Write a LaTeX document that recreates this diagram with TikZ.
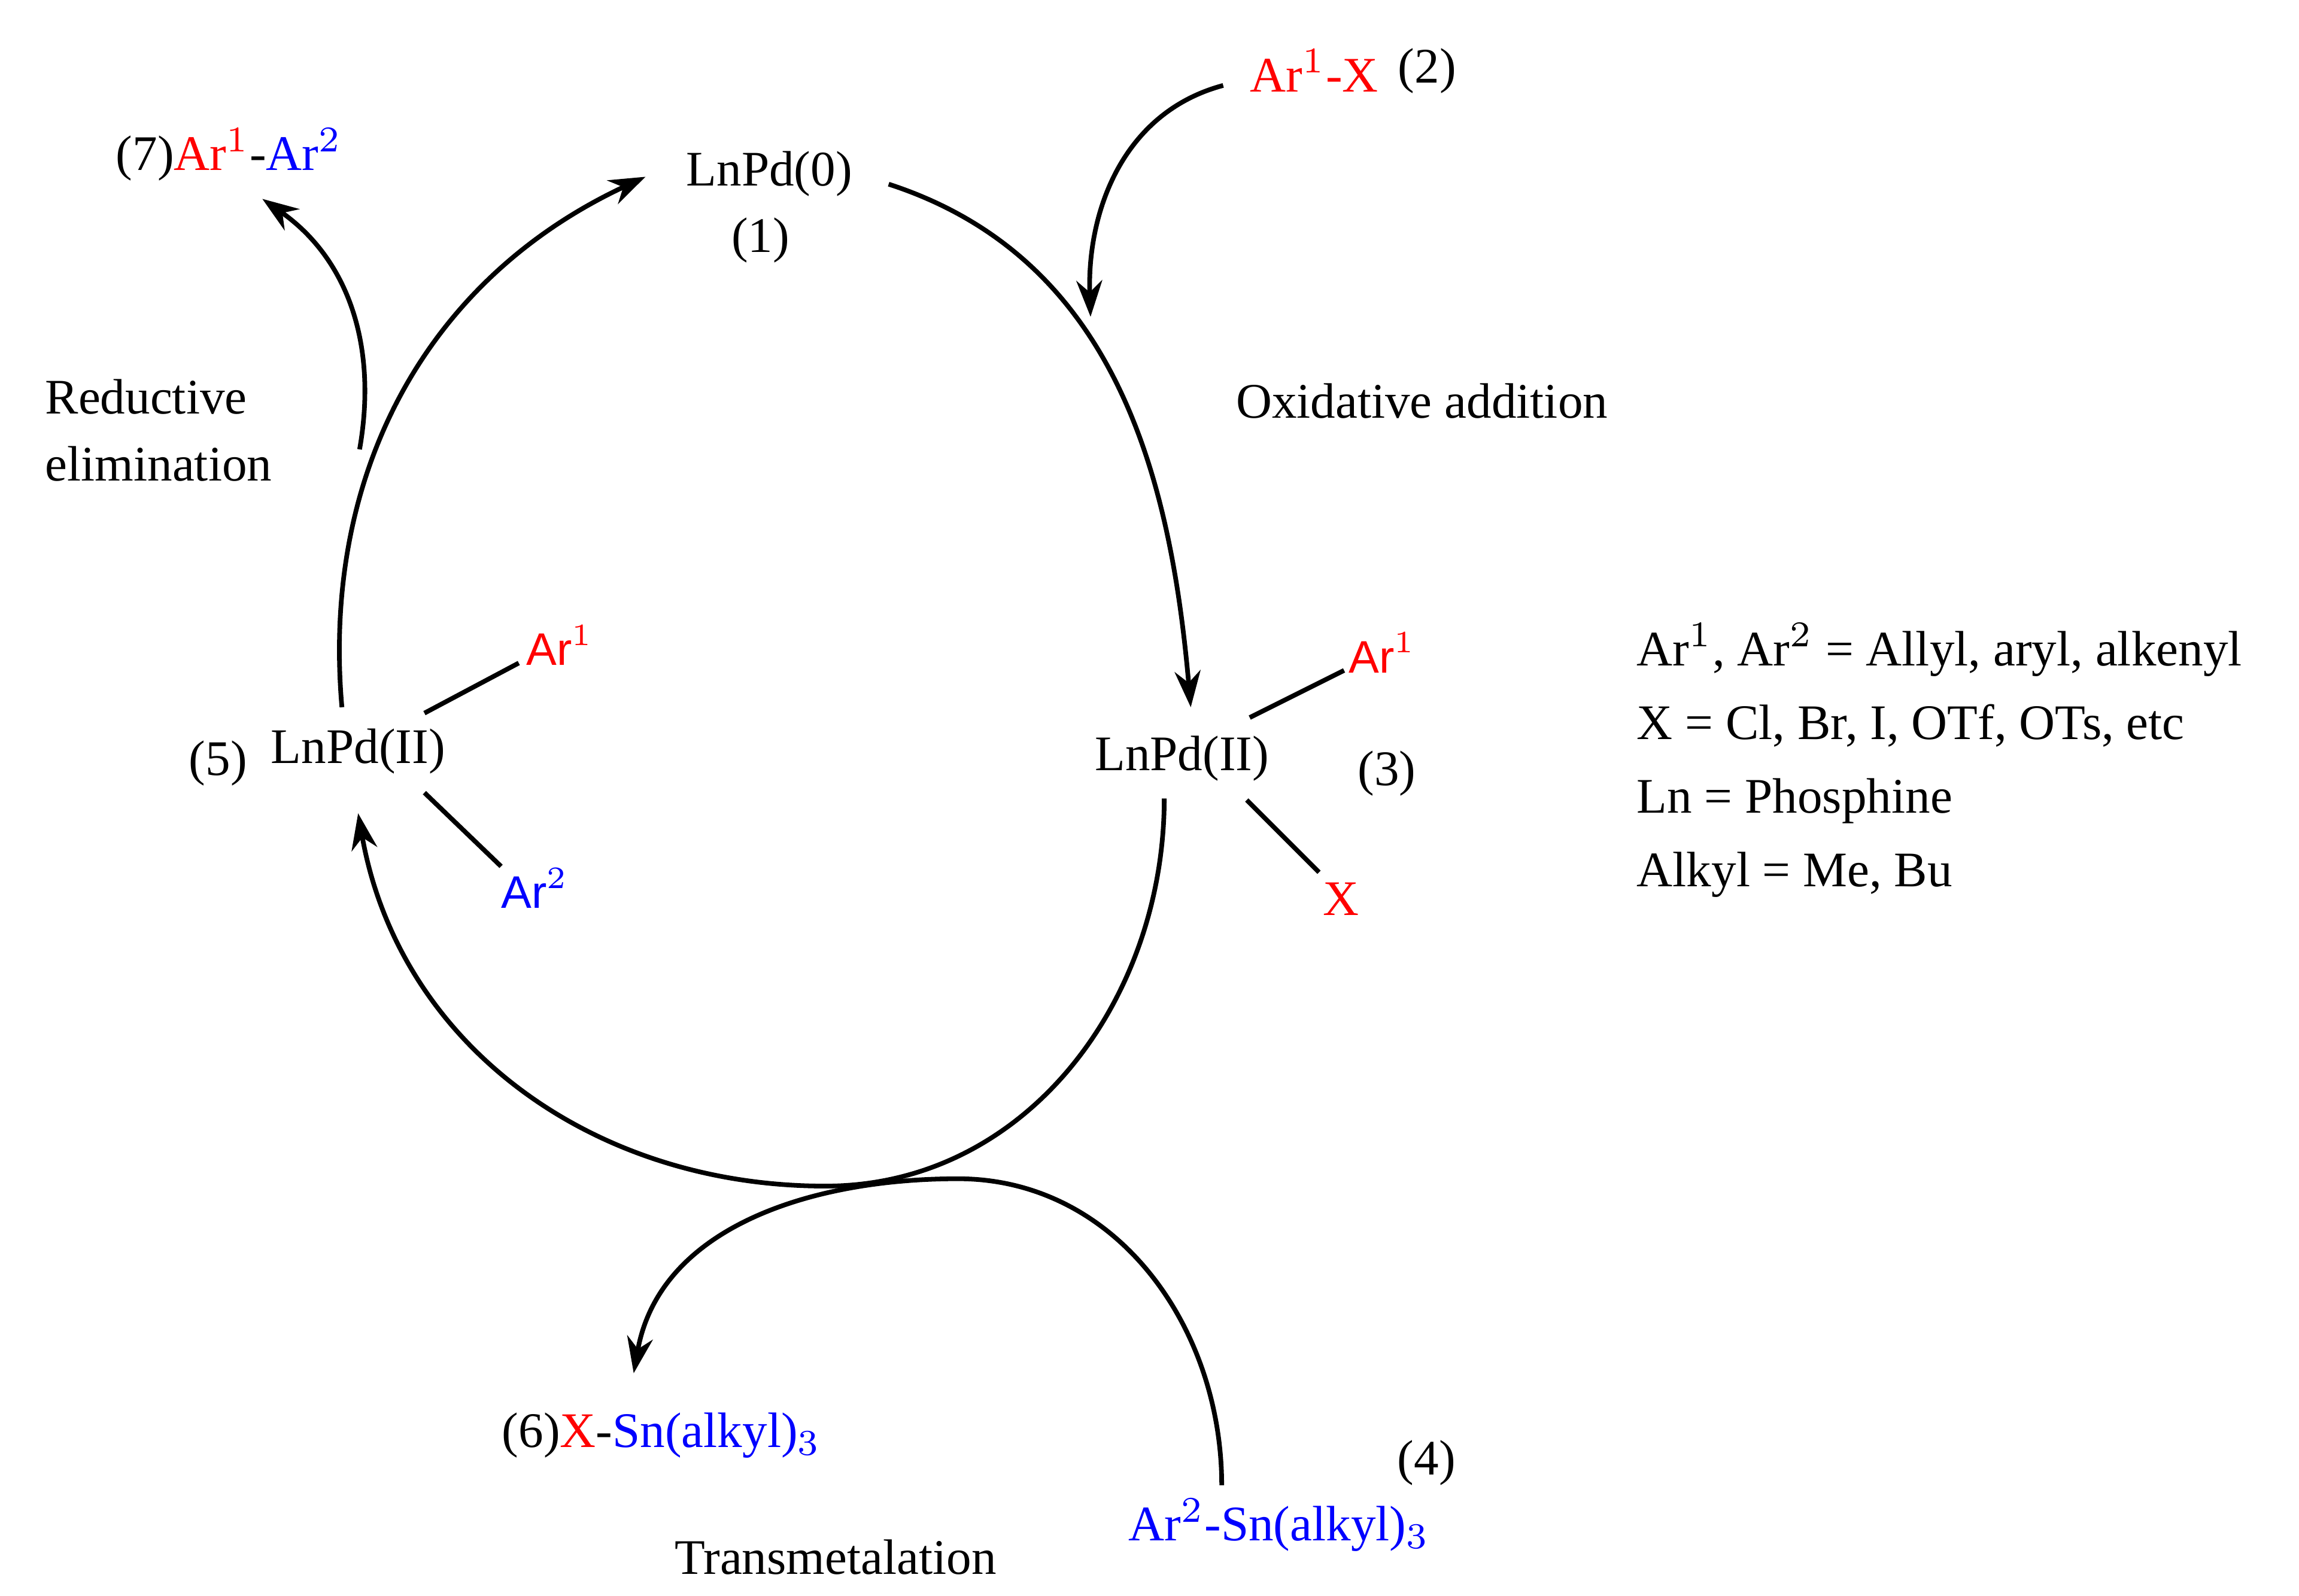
\documentclass[tikz,border=0pt]{standalone}
\usepackage{fontspec}
\setmainfont{Liberation Serif}
\newfontfamily\sansf{Liberation Sans}
\usetikzlibrary{arrows.meta}
\definecolor{rd}{RGB}{255,0,0}
\definecolor{bl}{RGB}{0,0,255}
\begin{document}
\begin{tikzpicture}[x=0.01cm,y=0.01cm,
  every node/.style={font=\fontsize{9.6}{11}\selectfont, inner sep=0pt},
  arc/.style={line width=0.9pt,-{Stealth[length=7pt,width=5pt]}},
  bond/.style={line width=0.9pt},
  sf/.style={font=\sansf\fontsize{8.8}{10}\selectfont}]
\useasboundingbox (0,0) rectangle (1560,-1083);
\node (pd0) at (522,-118) {LnPd(0)};
\node (n1) at (516,-163) {(1)};
\node[anchor=east,text=rd] (arx) at (936,-48) {Ar$^{1}$-X};
\node[anchor=west] (n2) at (948,-48) {(2)};
\node[anchor=west] (p7) at (78,-105) {(7)\textcolor{rd}{Ar$^{1}$}-\textcolor{bl}{Ar$^{2}$}};
\node[anchor=west,align=left] (re) at (30,-292) {Reductive\\[2pt]elimination};
\node[anchor=west] (oa) at (838,-272) {Oxidative addition};
\node (pd3) at (802,-515) {LnPd(II)};
\node (n3) at (941,-525) {(3)};
\node[sf,text=rd] (a13) at (938,-443) {Ar$^{1}$};
\node[text=rd] (x3) at (910,-610) {X};
\coordinate (b1a) at (848,-487); \coordinate (b1b) at (912,-455);
\coordinate (b2a) at (846,-543); \coordinate (b2b) at (895,-592);
\draw[bond] (b1a) -- (b1b); \draw[bond] (b2a) -- (b2b);
\node (n5) at (148,-518) {(5)};
\node (pd5) at (243,-510) {LnPd(II)};
\node[sf,text=rd] (a15) at (380,-438) {Ar$^{1}$};
\node[sf,text=bl] (a25) at (363,-603) {Ar$^{2}$};
\coordinate (c1a) at (288,-484); \coordinate (c1b) at (352,-450);
\coordinate (c2a) at (288,-538); \coordinate (c2b) at (340,-588);
\draw[bond] (c1a) -- (c1b); \draw[bond] (c2a) -- (c2b);
\node[anchor=west,align=left] (leg) at (1110,-516) {Ar$^{1}$, Ar$^{2}$ = Allyl, aryl, alkenyl\\[3.2pt]X = Cl, Br, I, OTf, OTs, etc\\[3.2pt]Ln = Phosphine\\[3.2pt]Alkyl = Me, Bu};
\node[anchor=west] (p6) at (340,-974) {(6)\textcolor{rd}{X}-\textcolor{bl}{Sn(alkyl)$_3$}};
\node (n4) at (968,-993) {(4)};
\node[text=bl] (p4) at (868,-1035) {Ar$^{2}$-Sn(alkyl)$_3$};
\node (tm) at (567,-1057) {Transmetalation};
% main cycle
\coordinate (s1) at (603,-125); \coordinate (e1) at (808,-480);
\coordinate (s2) at (790,-542); \coordinate (m2) at (560,-805); \coordinate (e2) at (243,-552);
\coordinate (s3) at (232,-480); \coordinate (e3) at (438,-120);
\draw[arc] (s1) to[out=-18,in=95] (e1);
\draw[arc] (s2) to[out=-90,in=0] (m2) to[out=180,in=-80] (e2);
\draw[arc] (s3) to[out=95,in=205] (e3);
% side arcs
\coordinate (t1) at (830,-58); \coordinate (t2) at (740,-215);
\draw[arc] (t1) to[out=195,in=92] (t2);
\coordinate (r1) at (244,-305); \coordinate (r2) at (178,-135);
\draw[arc] (r1) to[out=80,in=-35] (r2);
\coordinate (q1) at (829,-1008); \coordinate (q2) at (650,-800); \coordinate (q3) at (430,-932);
\draw[arc] (q1) to[out=90,in=0] (q2) to[out=180,in=80] (q3);
\end{tikzpicture}
\end{document}
